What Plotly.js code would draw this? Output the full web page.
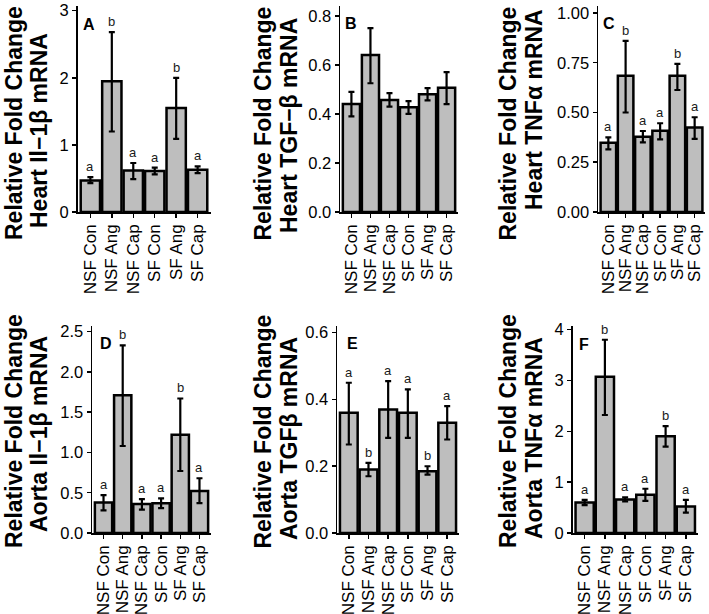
<!DOCTYPE html>
<html>
<head>
<meta charset="utf-8">
<script src="https://cdn.plot.ly/plotly-3.0.1.min.js"></script>
<style>html,body{margin:0;padding:0;background:#fff;}#chart{width:709px;height:614px;}</style>
</head>
<body>
<div id="chart"></div>
<script>
// ---- data ----
const categories = ["NSF Con", "NSF Ang", "NSF Cap", "SF Con", "SF Ang", "SF Cap"];

const panelLetters = ["A", "B", "C", "D", "E", "F"];
const titleLine1 = "Relative Fold Change";
const titleLine2 = ["Heart Il\u22121\u03b2 mRNA", "Heart TGF\u2212\u03b2 mRNA", "Heart TNF\u03b1 mRNA",
                    "Aorta Il\u22121\u03b2 mRNA", "Aorta TGF\u03b2 mRNA", "Aorta TNF\u03b1 mRNA"];

const meanA = [0.47, 1.95, 0.62, 0.61, 1.55, 0.63];
const hiA   = [0.52, 2.68, 0.73, 0.66, 2.00, 0.68];
const loA   = [0.43, 1.20, 0.49, 0.56, 1.09, 0.58];
const sigA  = ["a", "b", "a", "a", "b", "a"];

const meanB = [0.44, 0.64, 0.457, 0.427, 0.48, 0.507];
const hiB   = [0.49, 0.75, 0.485, 0.452, 0.505, 0.57];
const loB   = [0.39, 0.525, 0.43, 0.40, 0.455, 0.44];
const sigB  = ["", "", "", "", "", ""];

const meanC = [0.348, 0.685, 0.378, 0.408, 0.685, 0.424];
const hiC   = [0.375, 0.86, 0.407, 0.446, 0.744, 0.476];
const loC   = [0.315, 0.50, 0.35, 0.365, 0.613, 0.367];
const sigC  = ["a", "b", "a", "a", "b", "a"];

const meanD = [0.38, 1.71, 0.36, 0.37, 1.22, 0.52];
const hiD   = [0.47, 2.33, 0.42, 0.43, 1.67, 0.68];
const loD   = [0.28, 1.08, 0.29, 0.31, 0.77, 0.37];
const sigD  = ["a", "b", "a", "a", "b", "a"];

const meanE = [0.36, 0.19, 0.37, 0.36, 0.185, 0.33];
const hiE   = [0.45, 0.21, 0.455, 0.43, 0.20, 0.38];
const loE   = [0.265, 0.17, 0.285, 0.285, 0.175, 0.28];
const sigE  = ["a", "b", "a", "a", "b", "a"];

const meanF = [0.60, 3.07, 0.66, 0.75, 1.90, 0.52];
const hiF   = [0.65, 3.80, 0.70, 0.87, 2.10, 0.65];
const loF   = [0.55, 2.32, 0.62, 0.63, 1.70, 0.40];
const sigF  = ["a", "b", "a", "a", "b", "a"];

const yTickVals = [[0,1,2,3],[0,0.2,0.4,0.6,0.8],[0,0.25,0.5,0.75,1],
                   [0,0.5,1,1.5,2,2.5],[0,0.2,0.4,0.6],[0,1,2,3,4]];

// ---- layout geometry (pixels) ----
const W = 709, H = 614;
const geom = [
  {x:[77.5,210.5], y:[6,212], ymax:3.07, fmt:"d",   t1:[14,123],  t2:[39,131],  lt:[89,24]},
  {x:[340,458],    y:[6,212], ymax:0.84, fmt:".1f", t1:[262.5,124], t2:[289,126], lt:[351,23]},
  {x:[598,705],    y:[6,212], ymax:1.035,fmt:".2f", t1:[508,123.5], t2:[534,110], lt:[609,23]},
  {x:[92,211],     y:[326,533], ymax:2.57, fmt:".1f", t1:[14,431], t2:[39,434], lt:[105.5,343]},
  {x:[337,459],    y:[326,533], ymax:0.62, fmt:".1f", t1:[262.5,432], t2:[289,439], lt:[352,343]},
  {x:[572.5,698],  y:[326,533], ymax:4.07, fmt:"d",   t1:[508,431], t2:[534,438], lt:[584,344]}
];

const means = [meanA, meanB, meanC, meanD, meanE, meanF];
const his = [hiA, hiB, hiC, hiD, hiE, hiF];
const los = [loA, loB, loC, loD, loE, loF];
const sigs = [sigA, sigB, sigC, sigD, sigE, sigF];

const FONT = "Arial, 'Liberation Sans', Helvetica, sans-serif";
const traces = [];
const layout = {
  width: W, height: H,
  margin: {l:0, r:0, t:0, b:0},
  paper_bgcolor: "#ffffff", plot_bgcolor: "#ffffff",
  showlegend: false,
  font: {family: FONT, color: "#000"},
  annotations: []
};

for (let i = 0; i < 6; i++) {
  const sfx = i === 0 ? "" : String(i + 1);
  const g = geom[i];
  traces.push({
    type: "bar",
    x: categories,
    y: means[i],
    xaxis: "x" + sfx, yaxis: "y" + sfx,
    width: 0.9,
    marker: {color: "#bebebe", line: {color: "#000", width: 2.5}},
    error_y: {
      type: "data", symmetric: false,
      array: his[i].map((h, k) => h - means[i][k]),
      arrayminus: los[i].map((l, k) => means[i][k] - l),
      color: "#000", thickness: 2.2, width: 3
    },
    hoverinfo: "none"
  });
  layout["xaxis" + sfx] = {
    domain: [g.x[0] / W, g.x[1] / W],
    anchor: "y" + sfx,
    type: "category",
    range: [-0.6, 5.6],
    tickmode: "array", tickvals: categories, ticktext: categories,
    showline: true, linecolor: "#000", linewidth: 1.5,
    ticks: "outside", ticklen: 4, tickcolor: "#000", tickwidth: 1.5,
    tickangle: -90,
    tickfont: {family: FONT, size: 17, color: "#000"},
    showgrid: false, zeroline: false, fixedrange: true
  };
  layout["yaxis" + sfx] = {
    domain: [1 - g.y[1] / H, 1 - g.y[0] / H],
    anchor: "x" + sfx,
    range: [0, g.ymax],
    tickvals: yTickVals[i],
    tickformat: g.fmt,
    showline: true, linecolor: "#000", linewidth: 1.5,
    ticks: "outside", ticklen: 4, tickcolor: "#000", tickwidth: 1.5,
    tickfont: {family: FONT, size: 16.5, color: "#000"},
    showgrid: false, zeroline: false, fixedrange: true
  };
  // axis title lines
  layout.annotations.push({
    xref: "paper", yref: "paper", x: g.t1[0] / W, y: 1 - g.t1[1] / H,
    text: titleLine1, textangle: -90, showarrow: false,
    xanchor: "center", yanchor: "middle",
    font: {family: FONT, size: 23, color: "#000", weight: "bold"}
  });
  layout.annotations.push({
    xref: "paper", yref: "paper", x: g.t2[0] / W, y: 1 - g.t2[1] / H,
    text: titleLine2[i], textangle: -90, showarrow: false,
    xanchor: "center", yanchor: "middle",
    font: {family: FONT, size: 23, color: "#000", weight: "bold"}
  });
  // panel letter
  layout.annotations.push({
    xref: "paper", yref: "paper", x: g.lt[0] / W, y: 1 - g.lt[1] / H,
    text: "<b>" + panelLetters[i] + "</b>", showarrow: false,
    xanchor: "center", yanchor: "middle",
    font: {family: FONT, size: 16, color: "#000"}
  });
  // significance letters
  for (let k = 0; k < 6; k++) {
    if (!sigs[i][k]) continue;
    layout.annotations.push({
      xref: "x" + sfx, yref: "y" + sfx,
      x: categories[k], y: his[i][k],
      text: sigs[i][k], showarrow: false,
      xanchor: "center", yanchor: "bottom", yshift: 1,
      font: {family: FONT, size: 13, color: "#1a1a1a"}
    });
  }
}

Plotly.newPlot("chart", traces, layout, {staticPlot: true, displayModeBar: false});
</script>
</body>
</html>
